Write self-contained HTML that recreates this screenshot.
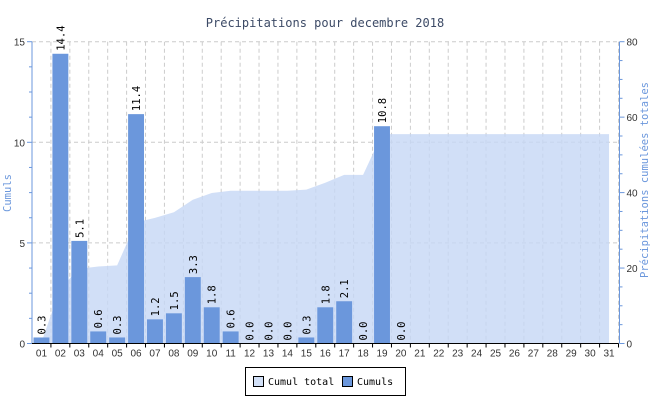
<!DOCTYPE html>
<html><head><meta charset="utf-8"><style>
body{margin:0;background:#fff}
svg{display:block;font-family:"DejaVu Sans Mono","Liberation Mono",monospace}
</style></head><body>
<svg id="c" width="650" height="400">
<text x="325" y="27" text-anchor="middle" font-size="12" fill="#3c4a66">Précipitations pour decembre 2018</text>
</svg>
<script>
const days=["01","02","03","04","05","06","07","08","09","10","11","12","13","14","15","16","17","18","19","20","21","22","23","24","25","26","27","28","29","30","31"];
const dailyValues=[0.3,14.4,5.1,0.6,0.3,11.4,1.2,1.5,3.3,1.8,0.6,0.0,0.0,0.0,0.3,1.8,2.1,0.0,10.8,0.0,null,null,null,null,null,null,null,null,null,null,null];
const cumulValues=[0.3,14.7,19.8,20.4,20.7,32.1,33.3,34.8,38.1,39.9,40.5,40.5,40.5,40.5,40.8,42.6,44.7,44.7,55.5,55.5,55.5,55.5,55.5,55.5,55.5,55.5,55.5,55.5,55.5,55.5,55.5];
const leftTicks=[0,5,10,15];
const rightTicks=[0,20,40,60,80];
const svg=document.getElementById('c');const NS='http://www.w3.org/2000/svg';
const L=32,R=618.5,T=41.7,B=343.5,slot=(R-L)/days.length;
const yL=v=>B-v/15*(B-T), yR=v=>B-v/80*(B-T);
const xC=i=>L+(i+0.5)*slot;
function mk(t,a,p){const e=document.createElementNS(NS,t);for(const k in a)e.setAttribute(k,a[k]);(p||svg).appendChild(e);return e;}
for(let i=1;i<=days.length;i++){const g=mk('line',{x1:L+i*slot,x2:L+i*slot,y1:T,y2:B,stroke:'#ccc','stroke-dasharray':'4,3'});

}
leftTicks.forEach(v=>{if(v>0){const g=mk('line',{x1:L,x2:R,y1:yL(v),y2:yL(v),stroke:'#ccc','stroke-dasharray':'4,3'});

}});
let d='M'+xC(0)+','+B;cumulValues.forEach((v,i)=>{d+=' L'+xC(i)+','+yR(v);});d+=' L'+xC(days.length-1)+','+B+' Z';
const area=mk('path',{d:d,fill:'#c6d7f5','fill-opacity':'0.8'});


dailyValues.forEach((v,i)=>{if(v===null)return;const x=L+i*slot+1.5,w=slot-3;
const b=mk('rect',{x:x,y:yL(v),width:w,height:B-yL(v),fill:'#6b97dc'});


const t=mk('text',{x:0,y:0,'font-size':'10.5',fill:'#000',transform:'translate('+(xC(i)+4)+','+(yL(v)-3)+') rotate(-90)'});t.textContent=v.toFixed(1);

});
const ax=mk('line',{x1:L,x2:L,y1:T,y2:B,stroke:'#6b97dc'});
const ar=mk('line',{x1:R+1,x2:R+1,y1:T,y2:B,stroke:'#6b97dc'});
const xb=mk('line',{x1:L,x2:R,y1:B,y2:B,stroke:'#000'});
for(let k=0;k<=12;k++){const v=k*1.25;mk('line',{x1:L-(k%4?3:5),x2:L,y1:yL(v),y2:yL(v),stroke:'#6b97dc'});}
for(let k=0;k<=16;k++){const v=k*5;mk('line',{x1:R+1,x2:R+(k%4?4:6),y1:yR(v),y2:yR(v),stroke:'#6b97dc'});}
leftTicks.forEach(v=>{const t=mk('text',{x:L-7,y:yL(v)+4,'text-anchor':'end','font-size':'10',fill:'#333','font-family':'Liberation Sans,sans-serif'});t.textContent=v;
});
rightTicks.forEach(v=>{const t=mk('text',{x:R+8,y:yR(v)+4,'font-size':'10',fill:'#333','font-family':'Liberation Sans,sans-serif'});t.textContent=v;
});
days.forEach((s,i)=>{mk('line',{x1:L+(i+1)*slot,x2:L+(i+1)*slot,y1:B,y2:B+4,stroke:'#000'});
const t=mk('text',{x:xC(i),y:B+13,'text-anchor':'middle','font-size':'10',fill:'#333','font-family':'Liberation Sans,sans-serif'});t.textContent=s;
});
const yt=mk('text',{x:0,y:0,'font-size':'10.5',fill:'#6b97dc','text-anchor':'middle',transform:'translate(11,193) rotate(-90)'});yt.textContent='Cumuls';

const yt2=mk('text',{x:0,y:0,'font-size':'10.5',fill:'#6b97dc','text-anchor':'middle',transform:'translate(648,180) rotate(-90)'});yt2.textContent='Précipitations cumulées totales';

const lg=mk('g',{});
mk('rect',{x:245.5,y:367.5,width:160,height:28,fill:'#fff',stroke:'#000'},lg);
const e1=mk('g',{},lg);
mk('rect',{x:253.5,y:376.5,width:10,height:10,fill:'#d2e0f7',stroke:'#000'},e1);
const t1=mk('text',{x:268,y:385,'font-size':'10',fill:'#000'},e1);t1.textContent='Cumul total';
const e2=mk('g',{},lg);
mk('rect',{x:342.5,y:376.5,width:10,height:10,fill:'#6b97dc',stroke:'#000'},e2);
const t2=mk('text',{x:357,y:385,'font-size':'10',fill:'#000'},e2);t2.textContent='Cumuls';
</script>
</body></html>
